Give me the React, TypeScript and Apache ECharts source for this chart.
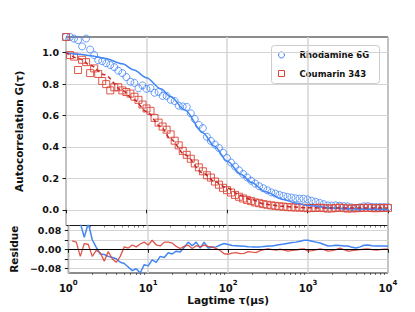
import React, { useEffect, useRef } from 'react';
import * as echarts from 'echarts';

// Lag times (µs) of the measured correlation points
const LAGTIME = [
  1, 1.122, 1.259, 1.413, 1.585, 1.778, 1.995, 2.239, 2.512, 2.818,
  3.162, 3.548, 3.981, 4.467, 5.012, 5.623, 6.31, 7.079, 7.943, 8.913,
  10, 11.22, 12.59, 14.13, 15.85, 17.78, 19.95, 22.39, 25.12, 28.18,
  31.62, 35.48, 39.81, 44.67, 50.12, 56.23, 63.1, 70.79, 79.43, 89.13,
  100, 112.2, 125.9, 141.3, 158.5, 177.8, 199.5, 223.9, 251.2, 281.8,
  316.2, 354.8, 398.1, 446.7, 501.2, 562.3, 631, 707.9, 794.3, 891.3,
  1000, 1122, 1259, 1413, 1585, 1778, 1995, 2239, 2512, 2818,
  3162, 3548, 3981, 4467, 5012, 5623, 6310, 7079, 7943, 8913,
  10000,
];

const RHODAMINE = [
  1.1, 1.1, 1.09, 1.08, 1.04, 1.09, 1.02, 0.985, 0.952, 0.946,
  0.933, 0.922, 0.908, 0.885, 0.87, 0.845, 0.815, 0.808, 0.774, 0.792,
  0.77, 0.775, 0.745, 0.75, 0.725, 0.725, 0.7, 0.692, 0.663, 0.658,
  0.655, 0.614, 0.578, 0.54, 0.52, 0.465, 0.438, 0.415, 0.393, 0.364,
  0.33, 0.301, 0.275, 0.251, 0.228, 0.206, 0.185, 0.167, 0.15, 0.137,
  0.124, 0.111, 0.103, 0.095, 0.088, 0.082, 0.078, 0.073, 0.071, 0.07,
  0.066, 0.058, 0.051, 0.044, 0.036, 0.028, 0.027, 0.028, 0.026, 0.023,
  0.022, 0.015, 0.011, 0.016, 0.022, 0.023, 0.019, 0.018, 0.018, 0.017,
  0.016,
];

const COUMARIN = [
  1.1, 0.985, 0.975, 0.89, 0.955, 0.94, 0.87, 0.9, 0.865, 0.82,
  0.8, 0.76, 0.78, 0.78, 0.76, 0.75, 0.74, 0.72, 0.7, 0.67,
  0.645, 0.63, 0.585, 0.555, 0.53, 0.51, 0.48, 0.44, 0.41, 0.375,
  0.35, 0.325, 0.295, 0.27, 0.245, 0.22, 0.205, 0.18, 0.16, 0.14,
  0.125, 0.11, 0.095, 0.083, 0.072, 0.063, 0.055, 0.047, 0.042, 0.036,
  0.032, 0.028, 0.025, 0.022, 0.02, 0.017, 0.016, 0.015, 0.014, 0.013,
  0.01, 0.011, 0.012, 0.013, 0.011, 0.008, 0.009, 0.011, 0.014, 0.011,
  0.008, 0.009, 0.01, 0.011, 0.012, 0.013, 0.011, 0.01, 0.011, 0.012,
  0.012,
];

// Fit curves
const FIT_LAGTIME = [1, 1.5, 2, 3, 5, 7, 10, 15, 20, 30, 50, 70, 100, 150, 200, 300, 500, 700, 1000, 2000, 5000, 10000];
const RHODAMINE_FIT = [1.0, 0.99, 0.98, 0.965, 0.93, 0.89, 0.84, 0.77, 0.72, 0.635, 0.49, 0.405, 0.31, 0.225, 0.175, 0.115, 0.066, 0.044, 0.028, 0.012, 0.005, 0.003];
const COUMARIN_FIT = [1.0, 0.96, 0.92, 0.86, 0.76, 0.7, 0.625, 0.53, 0.45, 0.35, 0.235, 0.18, 0.14, 0.09, 0.065, 0.035, 0.022, 0.017, 0.013, 0.011, 0.011, 0.011];

// Residues
const RHODAMINE_RES = [
  0.12, 0.13, 0.12, 0.11, 0.05, 0.11, 0.04, 0.008, -0.02, -0.022,
  -0.03, -0.035, -0.04, -0.055, -0.06, -0.075, -0.09, -0.082, -0.1, -0.065,
  -0.07, -0.045, -0.055, -0.03, -0.035, -0.015, -0.02, -0.008, -0.012, 0.008,
  0.03, 0.015, 0.03, 0.005, 0.03, 0.005, 0.008, 0.01, 0.018, 0.024,
  0.02, 0.016, 0.015, 0.014, 0.013, 0.011, 0.01, 0.01, 0.01, 0.012,
  0.014, 0.014, 0.017, 0.02, 0.022, 0.025, 0.028, 0.03, 0.034, 0.038,
  0.038, 0.034, 0.03, 0.026, 0.02, 0.014, 0.015, 0.017, 0.016, 0.014,
  0.014, 0.008, 0.005, 0.01, 0.017, 0.018, 0.015, 0.014, 0.014, 0.014,
  0.013,
];

const COUMARIN_RES = [
  null, 0.035, 0.03, -0.03, 0.024, 0.02, -0.03, -0.005, -0.015, -0.05,
  -0.01, -0.04, -0.055, -0.03, 0.01, 0.005, 0.018, 0.01, 0.022, 0.03,
  0.018, 0.038, 0.018, 0.014, 0.03, 0.03, 0.026, 0.012, 0.003, 0.012,
  0.017, 0.003, 0.015, 0.01, 0.017, 0.012, 0.01, 0.003, -0.005, -0.019,
  -0.021, -0.016, -0.014, -0.018, -0.017, -0.01, -0.012, -0.014, -0.006, -0.002,
  0.002, -0.002, -0.004, 0, -0.004, -0.008, -0.005, -0.004, 0, 0.002,
  -0.008, -0.006, -0.003, 0.002, -0.002, -0.008, -0.006, -0.002, 0.005, -0.002,
  -0.008, -0.006, -0.004, -0.002, 0, 0.002, -0.002, -0.004, -0.002, 0,
  0,
];

const G_TICKS = [0, 0.2, 0.4, 0.6, 0.8, 1.0];
const RES_TICKS = [-0.08, -0.04, 0, 0.04, 0.08];
const RES_LABELS = [-0.08, 0, 0.08];
const SERIES_NAMES = ['Rhodamine 6G', 'Coumarin 343'];

const BLUE = '#4285F4';
const RED = '#DB4437';
const FONT = 'DejaVu Sans';
const INK = '#1a1a1a';
const GRID_C = '#d4d4d4';

function pairs(xs: number[], ys: (number | null)[]) {
  const out: number[][] = [];
  xs.forEach((x, i) => {
    const y = ys[i];
    if (y !== null && y !== undefined) out.push([x, y]);
  });
  return out;
}

// minor tick positions in log10 space (2..9 per decade)
const MINOR: number[] = [];
for (let d = 0; d < 4; d++) {
  for (let m = 2; m <= 9; m++) MINOR.push(d + Math.log10(m));
}

export default function App() {
  const ref = useRef<HTMLDivElement>(null);
  useEffect(() => {
    if (!ref.current) return;
    const chart = echarts.init(ref.current, null, { renderer: 'svg' });
    const G0 = { left: 66, top: 37, width: 322, height: 188.5 };
    const G1 = { left: 66, top: 225.5, width: 322, height: 47.5 };
    const tickStyle = { color: INK, width: 1 };
    const labelBase = { fontFamily: FONT, fontWeight: 'bold' as const, fontSize: 9.5, color: '#111' };
    const nameStyle = { fontFamily: FONT, fontWeight: 'bold' as const, fontSize: 10.5, color: '#111' };

    const logAxis = (gi: number, withLabels: boolean): any => ({
      type: 'log', logBase: 10, gridIndex: gi, min: 1, max: 10000, position: 'bottom',
      axisLine: { show: false },
      axisTick: { show: true, length: 3.5, lineStyle: tickStyle },
      axisLabel: withLabels
        ? {
            show: true, margin: 6,
            formatter: (v: number) => '{b|10}{s|' + Math.round(Math.log10(v)) + '}',
            rich: {
              b: { ...labelBase, fontSize: 10, lineHeight: 14, verticalAlign: 'bottom' },
              s: { ...labelBase, fontSize: 7, lineHeight: 14, verticalAlign: 'top' },
            },
          }
        : { show: false },
      splitLine: { show: true, lineStyle: { color: GRID_C, width: 1.5 } },
      ...(withLabels
        ? { name: 'Lagtime τ(μs)', nameLocation: 'middle', nameGap: 21, nameTextStyle: nameStyle }
        : {}),
    });
    const minorAxis = (gi: number): any => ({
      type: 'value', gridIndex: gi, min: 0, max: 4, position: 'bottom',
      axisLine: { show: false },
      axisTick: { show: true, length: 2, customValues: MINOR, lineStyle: { color: INK, width: 0.6 } },
      axisLabel: { show: false },
      splitLine: { show: false },
    });

    const option: any = {
      animation: false,
      backgroundColor: '#ffffff',
      textStyle: { fontFamily: FONT },
      grid: [
        { ...G0, show: true, borderColor: INK, borderWidth: 1, backgroundColor: 'transparent' },
        { ...G1, show: true, borderColor: INK, borderWidth: 1, backgroundColor: 'transparent' },
      ],
      xAxis: [logAxis(0, false), logAxis(1, true), minorAxis(0), minorAxis(1)],
      yAxis: [
        {
          type: 'value', gridIndex: 0, min: -0.1, max: 1.1,
          axisLine: { show: false },
          axisTick: { show: true, length: 3.5, customValues: G_TICKS, lineStyle: tickStyle },
          axisLabel: { ...labelBase, customValues: G_TICKS, margin: 7, formatter: (v: number) => v.toFixed(1) },
          splitLine: { show: true, lineStyle: { color: GRID_C, width: 1 } },
          name: 'Autocorrelation G(τ)', nameLocation: 'middle', nameGap: 42, nameTextStyle: nameStyle,
        },
        {
          type: 'value', gridIndex: 1, min: -0.1, max: 0.1,
          axisLine: { show: false },
          axisTick: { show: true, length: 3.5, customValues: RES_TICKS, lineStyle: tickStyle },
          axisLabel: {
            ...labelBase, customValues: RES_LABELS, margin: 7,
            formatter: (v: number) => (v < 0 ? '\u2212' : '') + Math.abs(v).toFixed(2),
          },
          splitLine: { show: true, lineStyle: { color: GRID_C, width: 1 } },
          name: 'Residue', nameLocation: 'middle', nameGap: 46, nameTextStyle: nameStyle,
        },
      ],
      series: [
        {
          name: SERIES_NAMES[0], type: 'scatter', xAxisIndex: 0, yAxisIndex: 0,
          data: pairs(LAGTIME, RHODAMINE), symbol: 'circle', symbolSize: 7,
          itemStyle: { color: 'transparent', borderColor: BLUE, borderWidth: 1 },
        },
        {
          name: SERIES_NAMES[0] + ' fit', type: 'line', xAxisIndex: 0, yAxisIndex: 0,
          data: pairs(FIT_LAGTIME, RHODAMINE_FIT), showSymbol: false, smooth: 0.3, smoothMonotone: 'x',
          lineStyle: { color: BLUE, width: 1.5 },
        },
        {
          name: SERIES_NAMES[1], type: 'scatter', xAxisIndex: 0, yAxisIndex: 0,
          data: pairs(LAGTIME, COUMARIN), symbol: 'rect', symbolSize: 7,
          itemStyle: { color: 'transparent', borderColor: RED, borderWidth: 1, opacity: 0.9 },
        },
        {
          name: SERIES_NAMES[1] + ' fit', type: 'line', xAxisIndex: 0, yAxisIndex: 0,
          data: pairs(FIT_LAGTIME, COUMARIN_FIT), showSymbol: false, smooth: 0.3, smoothMonotone: 'x',
          lineStyle: { color: '#c62828', width: 1.5, type: [4, 3] },
        },
        {
          name: SERIES_NAMES[0] + ' residue', type: 'line', xAxisIndex: 1, yAxisIndex: 1,
          data: pairs(LAGTIME, RHODAMINE_RES), showSymbol: false,
          lineStyle: { color: BLUE, width: 1.5 },
        },
        {
          name: SERIES_NAMES[1] + ' residue', type: 'line', xAxisIndex: 1, yAxisIndex: 1,
          data: pairs(LAGTIME, COUMARIN_RES), showSymbol: false,
          lineStyle: { color: RED, width: 1.3, opacity: 0.9 },
          markLine: {
            silent: true, symbol: ['none', 'none'], label: { show: false },
            lineStyle: { color: '#000', width: 1, type: 'solid' },
            data: [{ yAxis: 0 }],
          },
        },
      ],
      graphic: [
        {
          type: 'group', left: 271, top: 45,
          children: [
            { type: 'rect', shape: { x: 0, y: 0, width: 108, height: 38, r: 3 },
              style: { fill: 'rgba(255,255,255,0.85)', stroke: '#cccccc', lineWidth: 1 } },
            { type: 'circle', shape: { cx: 10, cy: 9.5, r: 3 },
              style: { fill: 'none', stroke: BLUE, lineWidth: 1 } },
            { type: 'rect', shape: { x: 7, y: 25, width: 6, height: 6 },
              style: { fill: 'none', stroke: RED, lineWidth: 1 } },
            { type: 'text', x: 28, y: 9.5,
              style: { text: SERIES_NAMES[0], fontFamily: FONT, fontWeight: 'bold', fontSize: 8.5, fill: '#111', verticalAlign: 'middle' } },
            { type: 'text', x: 28, y: 28,
              style: { text: SERIES_NAMES[1], fontFamily: FONT, fontWeight: 'bold', fontSize: 8.5, fill: '#111', verticalAlign: 'middle' } },
          ],
        },
      ],
    };
    chart.setOption(option);
    return () => chart.dispose();
  }, []);
  return (
    <div
      ref={ref}
      style={{ position: 'fixed', left: 0, top: 0, width: 415, height: 312, background: '#fff' }}
    />
  );
}
